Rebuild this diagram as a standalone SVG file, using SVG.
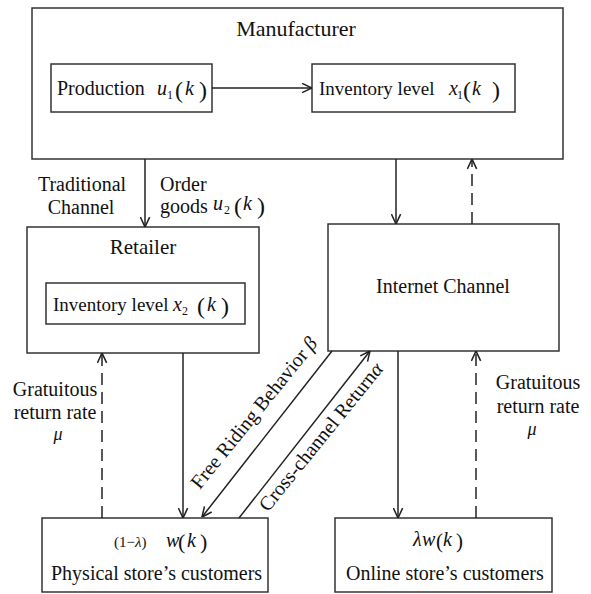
<svg xmlns="http://www.w3.org/2000/svg" width="591" height="594" viewBox="0 0 591 594">
<style>
.box{fill:#fff;stroke:#333;stroke-width:1.5}
.t{font-family:"Liberation Serif","Times New Roman",serif;font-size:20px;fill:#111}
.i{font-style:italic}
.c{stroke:#222;stroke-width:1.5;fill:none}
.d{stroke-dasharray:12 7}
</style>
<defs>
<marker id="ah" viewBox="0 0 10 10" refX="10" refY="5" markerWidth="11" markerHeight="11" markerUnits="userSpaceOnUse" orient="auto">
<path d="M1,0.8 L10,5 L1,9.2" fill="none" stroke="#222" stroke-width="1.4"/>
</marker>
</defs>
<rect width="591" height="594" fill="#fff"/>

<g id="manufacturer">
<rect class="box" x="32" y="8" width="531" height="151"/>
<text class="t" x="296" y="36" text-anchor="middle" style="font-size:22px">Manufacturer</text>
</g>
<g id="production">
<rect class="box" x="51" y="64" width="161" height="48"/>
<text class="t" x="57" y="95">Production</text>
<text class="t"><tspan class="i" x="157" y="95">u</tspan><tspan x="167" y="99" font-size="12">1</tspan><tspan x="175" y="98" font-size="24">(</tspan><tspan class="i" x="185" y="95">k</tspan><tspan x="199" y="98" font-size="24">)</tspan></text>
</g>
<g id="inventory1">
<rect class="box" x="312" y="64" width="203" height="48"/>
<text class="t" x="319" y="95" style="font-size:19px">Inventory level</text>
<text class="t"><tspan class="i" x="449" y="95">x</tspan><tspan x="457" y="99" font-size="12">1</tspan><tspan x="463" y="98" font-size="24">(</tspan><tspan class="i" x="472" y="95">k</tspan><tspan x="492" y="98" font-size="24">)</tspan></text>
</g>
<g id="retailer">
<rect class="box" x="27" y="227" width="232" height="126"/>
<text class="t" x="143" y="254" text-anchor="middle" style="font-size:21px">Retailer</text>
</g>
<g id="inventory2">
<rect class="box" x="46" y="283" width="199" height="41"/>
<text class="t" x="53" y="311" style="font-size:19px">Inventory level</text>
<text class="t"><tspan class="i" x="173" y="311">x</tspan><tspan x="182" y="315" font-size="12">2</tspan><tspan x="197" y="314" font-size="24">(</tspan><tspan class="i" x="207" y="311">k</tspan><tspan x="221" y="314" font-size="24">)</tspan></text>
</g>
<g id="internet">
<rect class="box" x="328" y="224" width="231" height="127"/>
<text class="t" x="443" y="293" text-anchor="middle">Internet Channel</text>
</g>
<g id="physical">
<rect class="box" x="42" y="518" width="226" height="74"/>
<text class="t"><tspan x="114" y="547" font-size="15">(1−</tspan><tspan class="i" font-size="15">λ</tspan><tspan font-size="15">)</tspan><tspan class="i" x="166" y="547">w</tspan><tspan x="178" y="549" font-size="22">(</tspan><tspan class="i" x="187" y="547">k</tspan><tspan x="200" y="549" font-size="22">)</tspan></text>
<text class="t" x="51" y="580">Physical store’s customers</text>
</g>
<g id="online">
<rect class="box" x="335" y="518" width="217" height="74"/>
<text class="t"><tspan class="i" x="413" y="546">λ</tspan><tspan class="i" x="422" y="546">w</tspan><tspan x="436" y="548" font-size="21">(</tspan><tspan class="i" x="443" y="546">k</tspan><tspan x="456" y="548" font-size="21">)</tspan></text>
<text class="t" x="346" y="580">Online store’s customers</text>
</g>

<g id="connectors">
<line class="c" x1="212" y1="88" x2="312" y2="88" marker-end="url(#ah)"/>
<line class="c" x1="145" y1="159" x2="145" y2="227" marker-end="url(#ah)"/>
<line class="c" x1="396" y1="159" x2="396" y2="224" marker-end="url(#ah)"/>
<line class="c d" x1="472" y1="224" x2="472" y2="159" marker-end="url(#ah)"/>
<line class="c d" x1="102" y1="518" x2="102" y2="353" marker-end="url(#ah)"/>
<line class="c" x1="183" y1="353" x2="183" y2="518" marker-end="url(#ah)"/>
<line class="c" x1="332" y1="351" x2="202" y2="517" marker-end="url(#ah)"/>
<line class="c" x1="239" y1="518" x2="370" y2="351" marker-end="url(#ah)"/>
<line class="c" x1="398" y1="351" x2="398" y2="518" marker-end="url(#ah)"/>
<line class="c d" x1="476" y1="518" x2="476" y2="351" marker-end="url(#ah)"/>
</g>

<g id="labels">
<text class="t" x="82" y="191" text-anchor="middle">Traditional</text>
<text class="t" x="81" y="214" text-anchor="middle">Channel</text>
<text class="t" x="160" y="191">Order</text>
<text class="t" x="160" y="213">goods</text>
<text class="t"><tspan class="i" x="213" y="210">u</tspan><tspan x="224" y="214" font-size="12">2</tspan><tspan x="234" y="214" font-size="24">(</tspan><tspan class="i" x="243" y="210">k</tspan><tspan x="257" y="214" font-size="24">)</tspan></text>
<text class="t" x="55" y="396" text-anchor="middle">Gratuitous</text>
<text class="t" x="55" y="419" text-anchor="middle">return rate</text>
<text class="t i" x="58" y="440" text-anchor="middle" style="font-size:18px">μ</text>
<text class="t" x="538" y="389" text-anchor="middle">Gratuitous</text>
<text class="t" x="538" y="413" text-anchor="middle">return rate</text>
<text class="t i" x="532" y="435" text-anchor="middle" style="font-size:18px">μ</text>
<text class="t" transform="translate(259,417) rotate(-51)" text-anchor="middle">Free Riding Behavior  <tspan class="i">β</tspan></text>
<text class="t" transform="translate(326,441) rotate(-51)" text-anchor="middle">Cross-channel Return<tspan class="i">α</tspan></text>
</g>
</svg>
